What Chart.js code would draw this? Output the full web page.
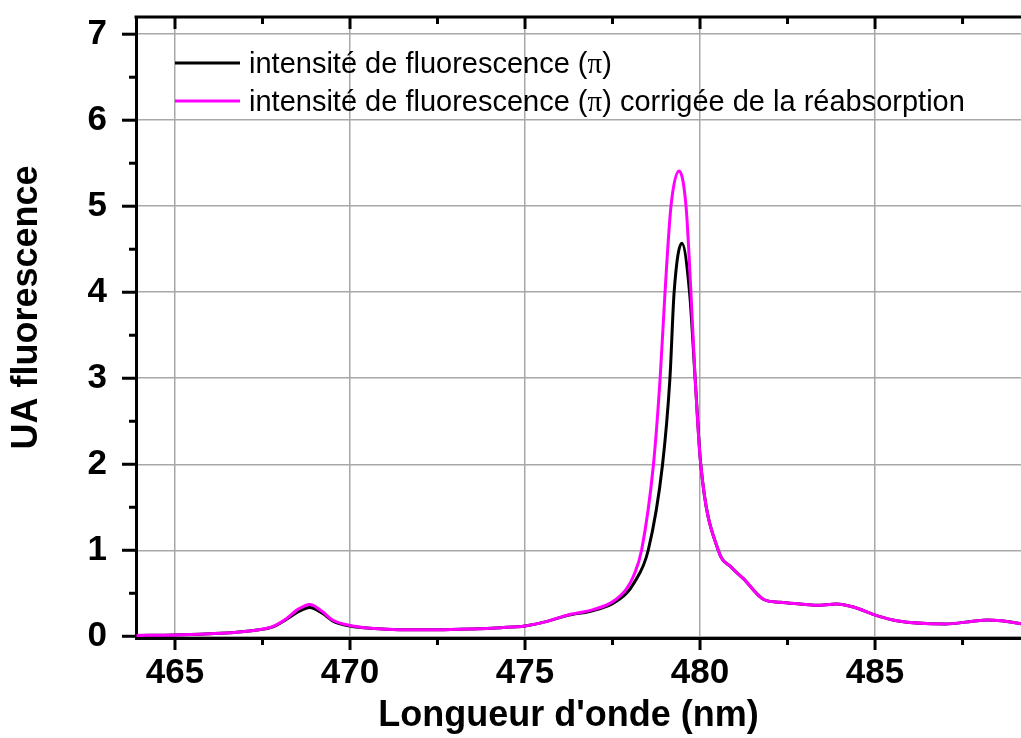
<!DOCTYPE html>
<html lang="fr">
  <head>
    <meta charset="UTF-8" />
    <title>Fluorescence</title>
    <script src="https://cdn.jsdelivr.net/npm/chart.js@4/dist/chart.umd.min.js"></script>
    <style>
      html, body { margin: 0; padding: 0; background: #fff; }
      #wrap { width: 1021px; height: 738px; }
    </style>
  </head>
  <body>
    <div id="wrap"><canvas id="myChart"></canvas></div>
    <script>
      // intensité de fluorescence (pi), brute
      const lambdaBrut = [463.9, 465, 466, 466.7, 467.3, 467.8, 468.2, 468.5, 468.85, 469.2, 469.5, 470, 470.7, 471.4, 472.5, 473.5, 474.3, 475, 475.6, 476.2, 476.95, 477.5, 477.9, 478.1, 478.52, 478.93, 479.14, 479.26, 479.48, 479.7, 479.86, 480.02, 480.52, 480.9, 481.24, 481.81, 482.29, 482.86, 483.33, 483.9, 484.38, 485.05, 485.62, 487.0, 487.8, 488.2, 488.6, 489.2];
      const fluoBrut = [0.01, 0.015, 0.03, 0.045, 0.07, 0.11, 0.2, 0.28, 0.335, 0.27, 0.18, 0.12, 0.09, 0.077, 0.075, 0.085, 0.1, 0.12, 0.17, 0.24, 0.3, 0.38, 0.5, 0.61, 1.0, 2.0, 3.0, 4.0, 4.57, 4.0, 3.0, 2.0, 1.0, 0.8, 0.67, 0.43, 0.395, 0.375, 0.36, 0.375, 0.34, 0.24, 0.18, 0.143, 0.175, 0.19, 0.18, 0.145];

      // corrigée de la réabsorption
      const lambdaCorr = [463.9, 465, 466, 466.7, 467.3, 467.8, 468.2, 468.5, 468.85, 469.2, 469.5, 470, 470.7, 471.4, 472.5, 473.5, 474.3, 475, 475.6, 476.2, 476.95, 477.5, 477.9, 478.1, 478.33, 478.67, 478.86, 479.0, 479.17, 479.4, 479.6, 479.74, 479.86, 480.02, 480.52, 480.9, 481.24, 481.81, 482.29, 482.86, 483.33, 483.9, 484.38, 485.05, 485.62, 487.0, 487.8, 488.2, 488.6, 489.2];
      const fluoCorr = [0.01, 0.015, 0.03, 0.045, 0.07, 0.115, 0.21, 0.31, 0.37, 0.29, 0.19, 0.125, 0.09, 0.077, 0.075, 0.085, 0.1, 0.12, 0.17, 0.245, 0.31, 0.4, 0.55, 0.7, 1.0, 2.0, 3.0, 4.0, 5.0, 5.41, 5.0, 4.0, 3.0, 2.0, 1.0, 0.8, 0.67, 0.43, 0.395, 0.375, 0.36, 0.375, 0.34, 0.24, 0.18, 0.143, 0.175, 0.19, 0.18, 0.145];

      const xTicks = [465, 470, 475, 480, 485];
      const yTicks = [0, 1, 2, 3, 4, 5, 6, 7];

      const toPoints = (xs, ys) => xs.map((v, i) => ({ x: v, y: ys[i] }));

      // axes en cadre + petites graduations + légende dans le graphe
      const frame = {
        id: "frame",
        afterDraw(chart) {
          const { ctx, chartArea: a, scales } = chart;
          const x = scales.x, y = scales.y;
          const seg = (x1, y1, x2, y2) => {
            ctx.beginPath(); ctx.moveTo(x1, y1); ctx.lineTo(x2, y2); ctx.stroke();
          };
          ctx.save();
          ctx.strokeStyle = "#000";
          ctx.lineWidth = 3;
          seg(a.left - 1.5, a.top, a.right, a.top);

          xTicks.forEach((v) => {
            const px = x.getPixelForValue(v);
            seg(px, a.top, px, a.top + 12);
            seg(px, a.bottom, px, a.bottom + 12);
            const m = x.getPixelForValue(v + 2.5);
            if (m < a.right) {
              seg(m, a.top, m, a.top + 7);
              seg(m, a.bottom, m, a.bottom + 7);
            }
          });
          yTicks.forEach((v) => {
            const py = y.getPixelForValue(v);
            seg(a.left, py, a.left - 14, py);
            const m = y.getPixelForValue(v + 0.5);
            if (m > a.top) seg(a.left, m, a.left - 7, m);
          });

          // légende
          ctx.textBaseline = "middle";
          chart.data.datasets.forEach((ds, i) => {
            const ly = 63 + i * 38;
            ctx.strokeStyle = ds.borderColor;
            ctx.lineWidth = 3;
            seg(175, ly, 240, ly);
            ctx.fillStyle = "#000";
            let tx = 249;
            ds.label.split("π").forEach((part, k) => {
              if (k > 0) {
                ctx.font = "29px 'Liberation Serif'";
                ctx.fillText("π", tx, ly + 2);
                tx += ctx.measureText("π").width;
              }
              ctx.font = "29px 'Liberation Sans'";
              ctx.fillText(part, tx, ly + 2);
              tx += ctx.measureText(part).width;
            });
          });
          ctx.restore();
        },
      };

      const tickFont = { family: "'Liberation Sans'", weight: "bold", size: 35 };
      const gridOpts = { color: "#a8a8a8", lineWidth: 1.5, drawTicks: false };

      new Chart(document.getElementById("myChart"), {
        type: "line",
        data: {
          datasets: [
            {
              label: "intensité de fluorescence (π)",
              data: toPoints(lambdaBrut, fluoBrut),
              borderColor: "#000000",
              borderWidth: 3,
              pointRadius: 0,
              cubicInterpolationMode: "monotone",
              order: 1,
            },
            {
              label: "intensité de fluorescence (π) corrigée de la réabsorption",
              data: toPoints(lambdaCorr, fluoCorr),
              borderColor: "#ff00ff",
              borderWidth: 3,
              pointRadius: 0,
              cubicInterpolationMode: "monotone",
              order: 0,
            },
          ],
        },
        options: {
          responsive: true,
          maintainAspectRatio: false,
          animation: false,
          layout: { padding: { top: 17, right: 0, left: 0, bottom: 0 } },
          plugins: { legend: { display: false }, tooltip: { enabled: false } },
          scales: {
            x: {
              type: "linear",
              min: 463.886,
              max: 489.17,
              afterBuildTicks: (s) => { s.ticks = xTicks.map((v) => ({ value: v })); },
              afterFit: (s) => { s.height = 100; s.paddingLeft = 0; s.paddingRight = 0; },
              ticks: { font: tickFont, color: "#000", padding: 14, maxRotation: 0 },
              grid: gridOpts,
              border: { display: true, color: "#000", width: 3 },
              title: {
                display: true,
                text: "Longueur d'onde (nm)  ",
                color: "#000",
                font: { family: "'Liberation Sans'", weight: "bold", size: 36 },
                padding: { top: 0, bottom: 0 },
              },
            },
            y: {
              min: -0.02,
              max: 7.2,
              afterBuildTicks: (s) => { s.ticks = yTicks.map((v) => ({ value: v })); },
              afterFit: (s) => { s.width = 136; s.paddingTop = 0; s.paddingBottom = 0; },
              ticks: { font: tickFont, color: "#000", padding: 29 },
              grid: gridOpts,
              border: { display: true, color: "#000", width: 3 },
              title: {
                display: true,
                text: "    UA fluorescence",
                color: "#000",
                font: { family: "'Liberation Sans'", weight: "bold", size: 36 },
                padding: { top: 5, bottom: 0 },
              },
            },
          },
        },
        plugins: [frame],
      });
    </script>
  </body>
</html>
